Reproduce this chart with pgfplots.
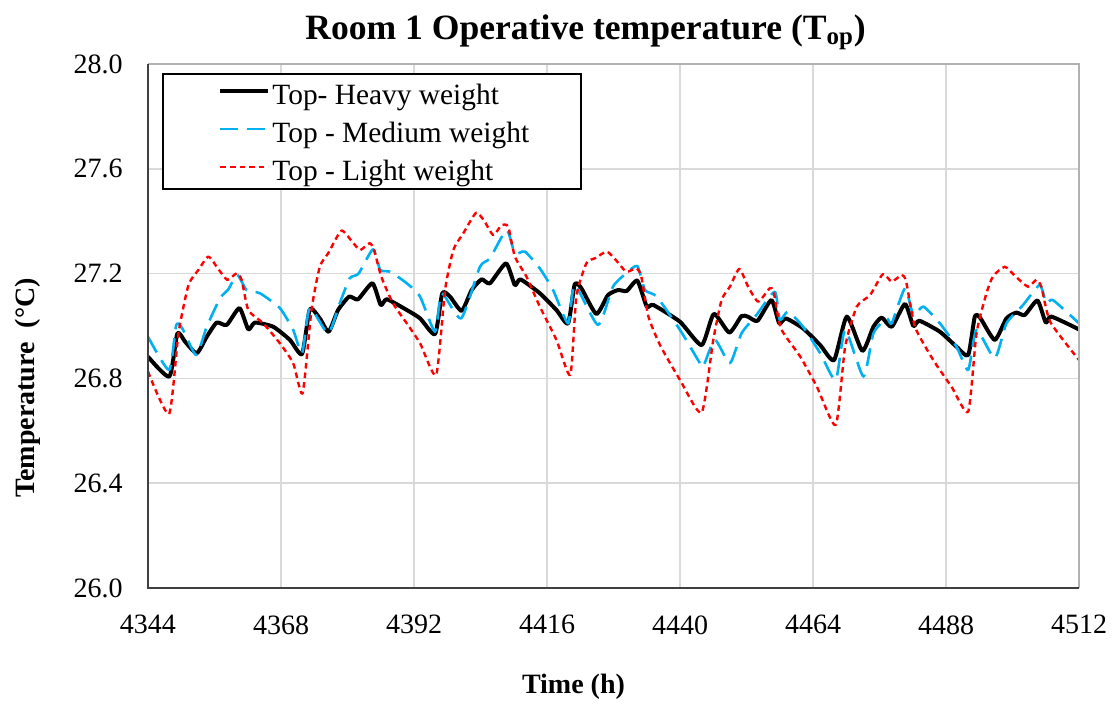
\documentclass[border=0pt]{standalone}
\usepackage{fontspec}
\setmainfont{Liberation Serif}
\usepackage{pgfplots}
\pgfplotsset{compat=1.18}
\definecolor{medblue}{RGB}{0,176,240}
\definecolor{gridgray}{RGB}{217,217,217}
\newcommand{\lstrut}{\rule[-3.4pt]{0pt}{13.6pt}}
\begin{document}
\begin{tikzpicture}
\begin{axis}[
  name=main,
  scale only axis,
  width=465.5pt, height=262pt,
  xmin=4344, xmax=4512, ymin=26.0, ymax=28.0,
  xtick={4344,4368,...,4512},
  ytick={26.0,26.4,...,28.01},
  major tick length=0pt,
  grid=major,
  major grid style={gridgray, line width=0.8pt},
  axis line style={draw=none},
  /pgf/number format/assume math mode=true,
  xticklabel style={font=\fontsize{14}{16}\selectfont, inner sep=0pt, anchor=north, yshift=-13.5pt,
     /pgf/number format/1000 sep={}},
  yticklabel style={font=\fontsize{14}{16}\selectfont, inner sep=0pt, anchor=east, xshift=-12.5pt,
     /pgf/number format/.cd, fixed, fixed zerofill, precision=1},
  every axis title shift=0pt,
  title={Room 1 Operative temperature (T\textsubscript{op})},
  title style={font=\fontsize{17.8}{20}\selectfont\bfseries, at={(axis description cs:0.470,1.0611)}, anchor=center, yshift=0pt},
  xlabel={Time (h)},
  xlabel style={font=\fontsize{14}{16}\selectfont\bfseries, at={(axis description cs:0.457,-0.189)}, anchor=center},
  ylabel={Temperature\ \ (°C)},
  ylabel style={font=\fontsize{14}{16}\selectfont\bfseries, at={(axis description cs:-0.1289,0.3817)}, anchor=center, rotate=0},
  legend cell align=left,
  legend image code/.code={\draw[#1] (0pt,2.5pt) -- (24pt,2.5pt);},
  legend style={at={(axis description cs:0.0752,0.9657)}, anchor=north west,
     draw=none, fill=none,
     font=\fontsize{14.7}{17}\selectfont,
     inner xsep=0pt, inner ysep=0pt, row sep=5.25pt, column sep=0pt,
     nodes={inner xsep=1pt, inner ysep=1pt}},
]
\addplot[black, line width=2pt, line join=round, smooth, tension=0.35] coordinates {
(4344,26.883) (4347.85,26.807) (4349.3,26.972) (4350.7,26.94) (4352.8,26.896) (4354.6,26.959)
(4356.4,27.013) (4358.2,27.004) (4360.5,27.068) (4362.1,26.987) (4363.3,27.013) (4366.6,26.997)
(4369.6,26.947) (4371.8,26.893) (4373.2,27.064) (4375.0,27.029) (4376.6,26.978) (4378.3,27.061)
(4380.3,27.112) (4381.9,27.102) (4384.5,27.163) (4386.0,27.080) (4387.1,27.102) (4390.7,27.061)
(4393.1,27.029) (4395.8,26.969) (4397.1,27.125) (4398.5,27.112) (4400.6,27.058) (4402.4,27.137)
(4404.2,27.178) (4405.7,27.163) (4408.6,27.239) (4410.2,27.156) (4411.2,27.178) (4414.7,27.125)
(4417.7,27.061) (4419.8,27.010) (4421.0,27.159) (4422.2,27.144) (4424.9,27.046) (4427.0,27.118)
(4428.8,27.137) (4430.4,27.134) (4432.3,27.173) (4434.0,27.074) (4435.2,27.080) (4440.0,27.016)
(4443.9,26.927) (4446.1,27.046) (4448.9,26.975) (4451.1,27.038) (4452.3,27.035) (4454.0,27.020)
(4456.5,27.099) (4457.9,27.010) (4459.1,27.029) (4462.2,26.991) (4465.3,26.927) (4467.8,26.870)
(4470.1,27.036) (4472.9,26.905) (4474.9,26.997) (4476.4,27.032) (4478.2,26.997) (4480.6,27.084)
(4482.1,27.000) (4483.2,27.020) (4486.9,26.978) (4489.9,26.921) (4492.0,26.889) (4493.2,27.036)
(4494.2,27.030) (4496.8,26.947) (4498.9,27.029) (4500.7,27.051) (4502.2,27.042) (4504.5,27.097)
(4506.0,27.013) (4507.0,27.036) (4512,26.987)
};
\addlegendentry{\lstrut Top- Heavy weight}
\addplot[medblue, line width=1.3pt, dash pattern=on 9pt off 4.5pt, line join=round, smooth, tension=0.35] coordinates {
(4344,26.959) (4347.8,26.832) (4349.1,27.004) (4350.2,26.99) (4352.7,26.889) (4354.6,26.997)
(4357.0,27.106) (4358.5,27.14) (4360.1,27.195) (4361.8,27.137) (4364.2,27.125) (4367.8,27.068)
(4370.2,26.985) (4371.8,26.896) (4373.2,27.068) (4376.5,26.972) (4378.6,27.087) (4380.4,27.182)
(4382.0,27.20) (4384.6,27.293) (4385.9,27.214) (4387.7,27.207) (4390.7,27.163) (4393.1,27.112)
(4395.8,26.978) (4397.0,27.125) (4400.5,27.029) (4403.9,27.226) (4405.7,27.258) (4408.7,27.366)
(4410.2,27.277) (4412.0,27.284) (4414.7,27.220) (4417.1,27.137) (4419.8,27.010) (4421.0,27.156)
(4425.2,27.004) (4427.9,27.150) (4430.3,27.201) (4432.3,27.229) (4433.7,27.137) (4435.8,27.112)
(4440.0,26.985) (4443.6,26.858) (4444.2,26.845) (4446.3,26.947) (4449.0,26.858) (4451.1,26.972)
(4453.8,27.042) (4457.1,27.131) (4458.0,27.023) (4459.5,27.055) (4462.2,26.997) (4465.3,26.896)
(4468.1,26.794) (4469.8,26.985) (4473.1,26.807) (4474.9,26.972) (4477.3,27.029) (4478.2,27.01)
(4480.6,27.144) (4482.1,27.042) (4483.9,27.074) (4486.9,27.010) (4489.9,26.921) (4492.0,26.832)
(4493.5,26.985) (4496.8,26.877) (4498.9,27.010) (4501.9,27.080) (4504.9,27.156) (4506.1,27.087)
(4507.3,27.099) (4512,27.010)
};
\addlegendentry{\lstrut Top - Medium weight}
\addplot[red, line width=1.2pt, dash pattern=on 2.8pt off 2pt, line join=round, smooth, tension=0.35] coordinates {
(4344,26.826) (4347.8,26.664) (4349.5,26.972) (4351.3,27.156) (4353.1,27.214) (4354.9,27.265)
(4356.6,27.22) (4358.3,27.176) (4360.0,27.201) (4360.9,27.176) (4362.1,27.061) (4364.8,27.010)
(4367.8,26.934) (4370.2,26.858) (4371.9,26.743) (4373.5,27.061) (4375.0,27.226) (4376.5,27.277)
(4378.9,27.364) (4380.9,27.32) (4382.3,27.290) (4384.0,27.316) (4384.8,27.29) (4386.1,27.188)
(4388.2,27.087) (4390.7,27.010) (4393.1,26.934) (4396.0,26.813) (4397.6,27.137) (4399.1,27.290)
(4400.9,27.354) (4403.2,27.432) (4404.7,27.40) (4406.3,27.347) (4407.8,27.385) (4409.0,27.379)
(4410.2,27.265) (4412.3,27.188) (4414.7,27.074) (4417.7,26.947) (4420.2,26.813) (4421.3,27.112)
(4423.1,27.239) (4424.8,27.26) (4426.8,27.284) (4428.5,27.25) (4430.3,27.207) (4432.1,27.220)
(4433.0,27.19) (4434.3,27.036) (4436.4,26.927) (4440.0,26.794) (4443.9,26.669) (4446.0,26.947)
(4447.5,27.099) (4449.0,27.15) (4450.7,27.218) (4452.3,27.150) (4454.1,27.093) (4456.2,27.144)
(4456.9,27.13) (4458.2,26.991) (4461.7,26.883) (4464.7,26.768) (4468.1,26.622) (4469.8,26.921)
(4471.9,27.074) (4474.3,27.118) (4476.6,27.198) (4478.2,27.169) (4480.0,27.195) (4480.8,27.17)
(4482.4,26.997) (4485.7,26.870) (4489.0,26.768) (4492.0,26.673) (4493.5,26.972) (4495.3,27.125)
(4496.5,27.19) (4498.6,27.226) (4500.5,27.19) (4502.8,27.150) (4504.3,27.176) (4505.2,27.15)
(4506.8,27.016) (4512,26.870)
};
\addlegendentry{\lstrut Top - Light weight}
\draw[black, line width=0.8pt, fill=white] (axis description cs:0.0161,0.9809) rectangle (axis description cs:0.4651,0.7615);
\end{axis}
\draw[gray!60, line width=1pt] (main.north west) -- (main.north east) -- (main.south east);
\draw[black!75, line width=1pt] (main.north west) -- (main.south west) -- (main.south east);
\pgfresetboundingbox
\path[use as bounding box] ([xshift=-74pt,yshift=-58pt]main.south west) rectangle ([xshift=18.5pt,yshift=32pt]main.north east);
\end{tikzpicture}
\end{document}
